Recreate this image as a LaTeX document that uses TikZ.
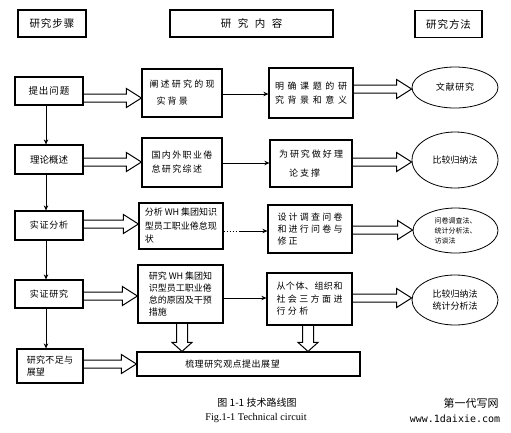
\documentclass[tikz,border=0pt]{standalone}
\usepackage{fontspec}
\setmainfont{Noto Sans CJK SC}
\newfontfamily\lserif{Liberation Serif}
\newfontfamily\lmono{DejaVu Sans Mono}
\usetikzlibrary{shapes.geometric,arrows.meta,calc}
\makeatletter
\newcommand\ls[2]{\def\ls@sk{\hskip#1\relax}\let\ls@first\relax\@tfor\ls@c:=#2\do{\ls@first\ls@c\let\ls@first\ls@sk}}
\makeatother
\newcommand\harr[3]{\draw[hollow] let \p1=(#1 |- #3), \p2=(#2 |- #3) in (\x1,\y1+4pt) -- (\x2-15pt,\y1+4pt) -- (\x2-15pt,\y1+9.5pt) -- (\x2,\y1) -- (\x2-15pt,\y1-9.5pt) -- (\x2-15pt,\y1-4pt) -- (\x1,\y1-4pt);}
\newcommand\varr[3]{\draw[hollow] let \p1=(#3 |- #1), \p2=(#3 |- #2) in (\x1-5.5pt,\y1) -- (\x1-5.5pt,\y2+9pt) -- (\x1-10pt,\y2+9pt) -- (\x1,\y2) -- (\x1+10pt,\y2+9pt) -- (\x1+5.5pt,\y2+9pt) -- (\x1+5.5pt,\y1);}
\tikzset{
 box/.style={draw, line width=1.2pt, inner sep=0pt, align=left, font=\fontsize{9}{13}\selectfont},
 hdr/.style={draw, line width=1.8pt, inner sep=0pt, minimum height=27, font=\fontsize{10.5}{12}\selectfont},
 ell/.style={draw, ellipse, line width=0.8pt, inner sep=0pt, align=left, font=\fontsize{9}{12}\selectfont},
 hollow/.style={draw, line width=1pt, line join=miter},
 arr/.style={line width=1pt, -{Stealth[length=5pt,width=4.5pt]}},
 varr/.style={line width=0.7pt, -{Stealth[length=5pt,width=4.5pt]}},
}
\begin{document}
\begin{tikzpicture}[x=1pt, y=-1pt]
\path[use as bounding box, fill=white] (0,0) rectangle (511,432);
% headers
\node[hdr, minimum width=68] (H1) at (52,23.5) {\ls{1pt}{研究步骤}};
\node[hdr, minimum width=163] (H2) at (251.5,23.5) {\ls{6.5pt}{研究内容}};
\node[hdr, minimum width=67] (H3) at (448.5,24) {\ls{1pt}{研究方法}};
% left column
\node[box, minimum width=68, minimum height=28, font=\fontsize{9.5}{12}\selectfont] (L1) at (49,91) {\ls{1pt}{提出问题}};
\node[box, minimum width=68, minimum height=29, font=\fontsize{9.5}{12}\selectfont] (L2) at (49,159.5) {理论概述};
\node[box, minimum width=68, minimum height=29, font=\fontsize{9}{12}\selectfont] (L3) at (49,225.5) {\ls{0.8pt}{实证分析}};
\node[box, minimum width=68, minimum height=28, font=\fontsize{9}{12}\selectfont] (L4) at (49,294) {\ls{0.8pt}{实证研究}};
\node[box, minimum width=66, minimum height=34, font=\fontsize{9}{11.5}\selectfont] (L5) at (50,366) {\ls{0.3pt}{研究不足与}\\展望};
% middle column
\node[box, minimum width=80, minimum height=48, font=\fontsize{9}{17}\selectfont] (M1) at (182,93) {\ls{2.2pt}{阐述研究的现}\\\hspace*{7pt}\ls{2.2pt}{实背景}};
\node[box, minimum width=80, minimum height=49, font=\fontsize{9}{14}\selectfont] (M2) at (182,162.5) {\ls{1.4pt}{国内外职业倦}\\\ls{1.4pt}{怠研究综述}};
\node[box, minimum width=84, minimum height=46, font=\fontsize{9}{13.5}\selectfont] (M3) at (181,226) {分析 WH 集团知识\\型员工职业倦怠现\\状};
\node[box, minimum width=85, minimum height=58, font=\fontsize{9}{12.3}\selectfont] (M4) at (180.5,294) {研究 WH 集团知\\识型员工职业倦\\怠的原因及干预\\措施};
\node[box, minimum width=223, minimum height=24] (B) at (248.5,364) {\ls{0.5pt}{梳理研究观点提出展望}\hspace*{32pt}};
% right column
\node[box, minimum width=84, minimum height=50, font=\fontsize{9}{13.5}\selectfont] (R1) at (311,93) {\ls{3.6pt}{明确课题的研}\\\ls{3.6pt}{究背景和意义}};
\node[box, minimum width=82, minimum height=47, font=\fontsize{9}{19}\selectfont] (R2) at (311,163.5) {\ls{2pt}{为研究做好理}\\\hspace*{10pt}\ls{2pt}{论支撑}};
\node[box, minimum width=84, minimum height=48, font=\fontsize{9}{12}\selectfont] (R3) at (310,229) {\ls{2.2pt}{设计调查问卷}\\\ls{2.2pt}{和进行问卷与}\\\ls{2.2pt}{修正}};
\node[box, minimum width=85, minimum height=52, font=\fontsize{9}{12.5}\selectfont] (R4) at (309.5,299) {\ls{0.5pt}{从个体、组织和}\\\ls{2.4pt}{社会三方面进}\\\ls{2.4pt}{行分析}};
% ellipses
\node[ell, minimum width=86, minimum height=41] (E1) at (455,87.5) {\ls{0.7pt}{文献研究}};
\node[ell, minimum width=86, minimum height=56] (E2) at (455,160) {比较归纳法};
\node[ell, minimum width=85, minimum height=45, font=\fontsize{7}{10}\selectfont] (E3) at (455.5,230.5) {问卷调查法、\\统计分析法、\\访谈法};
\node[ell, minimum width=86, minimum height=50] (E4) at (455,300) {比较归纳法\\统计分析法};
% y levels
\coordinate (ha1) at (0,98); \coordinate (ha2) at (0,162); \coordinate (ha3) at (0,224);
\coordinate (ha4) at (0,296); \coordinate (ha5) at (0,364);
\coordinate (hb1) at (0,89); \coordinate (hb2) at (0,162); \coordinate (hb3) at (0,230); \coordinate (hb4) at (0,298);
\coordinate (c1) at (0,94); \coordinate (c2) at (0,163); \coordinate (c3) at (0,231); \coordinate (c4) at (0,298);
\coordinate (v1) at (182,0); \coordinate (v2) at (308,0);
% hollow arrows
\harr{L1.east}{M1.west}{ha1}
\harr{L2.east}{M2.west}{ha2}
\harr{L3.east}{M3.west}{ha3}
\harr{L4.east}{M4.west}{ha4}
\harr{L5.east}{B.west}{ha5}
\harr{R1.east}{E1.west}{hb1}
\harr{R2.east}{E2.west}{hb2}
\harr{R3.east}{E3.west}{hb3}
\harr{R4.east}{E4.west}{hb4}
\varr{M4.south}{B.north}{v1}
\varr{R4.south}{B.north}{v2}
% connectors
\draw[arr] (M1.east |- c1) -- (R1.west |- c1);
\draw[arr] (M2.east |- c2) -- (R2.west |- c2);
\draw[dotted, line width=1pt] (M3.east |- c3) -- ++(15,0) coordinate (d3);
\draw[arr] (d3) -- (R3.west |- c3);
\draw[arr] (M4.east |- c4) -- (R4.west |- c4);
% left vertical arrows
\draw[varr] ([xshift=-3pt]L1.south) -- ([xshift=-3pt]L2.north);
\draw[varr] ([xshift=-3pt]L2.south) -- ([xshift=-3pt]L3.north);
\draw[varr] ([xshift=-3pt]L3.south) -- ([xshift=-3pt]L4.north);
\draw[varr] ([xshift=-3pt]L4.south) -- ([xshift=-3pt]L4.south |- L5.north);
% captions
\node[font=\fontsize{10}{12}\selectfont] (cap1) at (257,403) {图 1-1 技术路线图};
\node[font=\lserif\fontsize{10.3}{12}\selectfont] (cap2) at (256,418) {Fig.1-1 Technical circuit};
\node[font=\fontsize{11}{12}\selectfont] (wm1) at (471,403) {第一代写网};
\node[font=\lmono\fontsize{10}{12}\selectfont] (wm2) at (455,419) {www.1daixie.com};
\end{tikzpicture}
\end{document}
